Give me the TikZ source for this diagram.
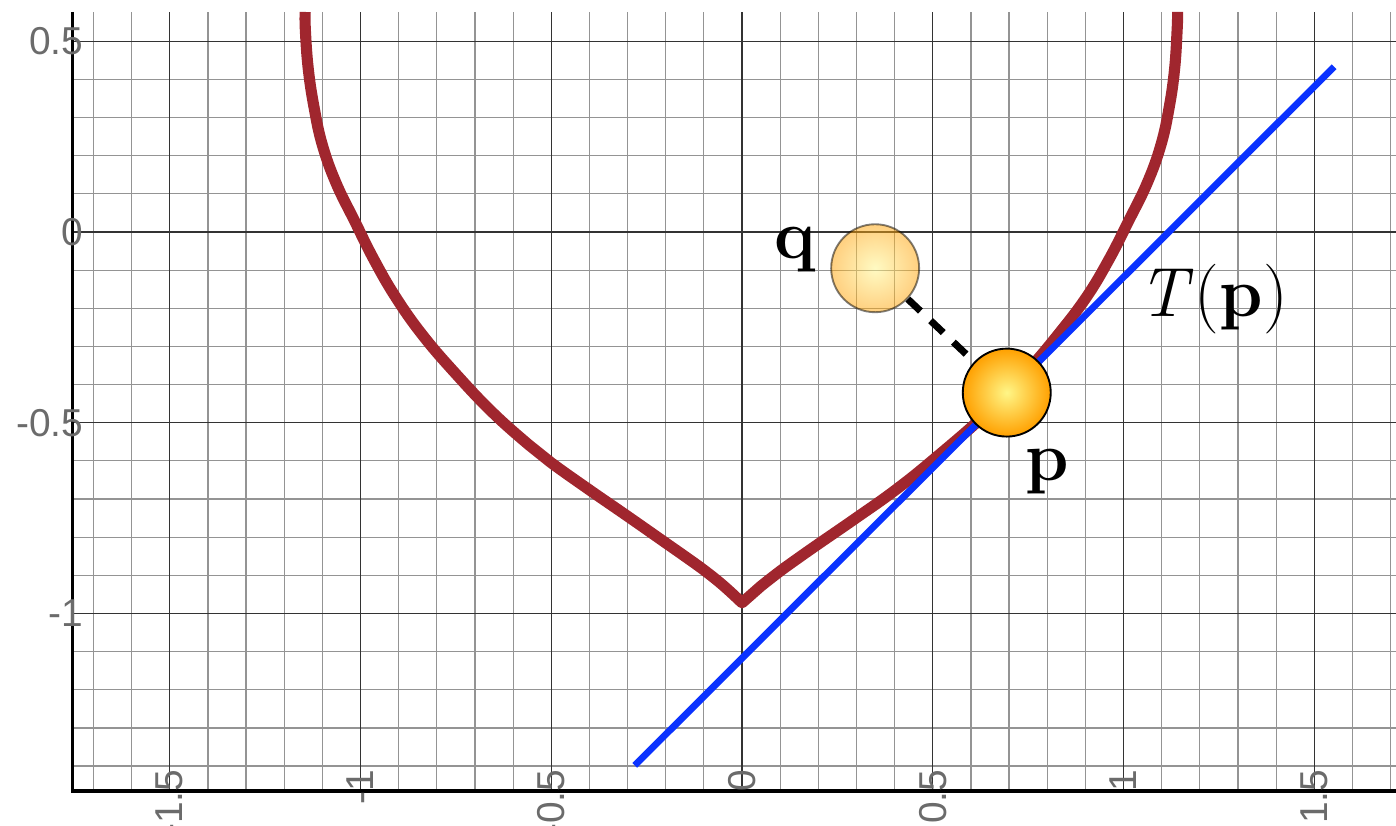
\documentclass[tikz,border=0pt]{standalone}
\usepackage{fontspec}
\newfontfamily\ticksf{Liberation Sans}
\definecolor{curvered}{RGB}{160,38,46}
\definecolor{tanblue}{RGB}{10,50,255}
\definecolor{ballin}{RGB}{255,246,135}
\definecolor{ballout}{RGB}{255,160,0}
\pgfdeclarelayer{back}
\pgfdeclarelayer{mid}
\pgfsetlayers{back,mid,main}
\tikzset{
  minorgrid/.style={draw=black!42, line width=0.9pt},
  majorgrid/.style={draw=black!80, line width=0.8pt},
  axisline/.style={draw=black, line width=2.5pt},
  curvestyle/.style={draw=curvered, line width=8.3pt, line join=round},
  tanline/.style={draw=tanblue, line width=5.1pt},
  dashline/.style={draw=black, line width=5.2pt, dash pattern=on 13pt off 10.4pt},
  ball/.style={circle, minimum size=65.6pt, inner sep=0pt, draw=black, line width=1.4pt, inner color=ballin, outer color=ballout},
  ticklab/.style={text=black!58, font=\ticksf\fontsize{29}{30}\selectfont, inner sep=0pt},
  lab/.style={inner sep=0pt, font=\fontsize{52}{58}\selectfont}
}
\begin{document}
\begin{tikzpicture}[x=10cm,y=10cm]
\useasboundingbox (-1.9450,-1.5570) rectangle (1.7143,0.6081);
\begin{pgfonlayer}{back}
% grid
\foreach \i in {-17,...,17} \draw[minorgrid] (\i/10,-1.4653) -- (\i/10,0.5767);
\foreach \j in {-14,...,5} \draw[minorgrid] (-1.7549,\j/10) -- (1.7143,\j/10);
\foreach \i in {-1.5,-1,-0.5,0,0.5,1,1.5} \draw[majorgrid] (\i,-1.4653) -- (\i,0.5767);
\foreach \j in {-1,-0.5,0,0.5} \draw[majorgrid] (-1.7549,\j) -- (1.7143,\j);
% axes
\coordinate (ytop) at (-1.7549,0.5767);
\coordinate (orig) at (-1.7549,-1.4653);
\coordinate (xend) at (1.7143,-1.4653);
\draw[axisline] (ytop) -- (orig) -- (xend);
% tick labels
\foreach \v/\t in {0.5/0.5,0/0,-0.5/-0.5,-1/-1}
  \node[ticklab, anchor=east] (yl\t) at (-1.7261,\v) {\t};
\foreach \v/\t in {-1.5/-1.5,-1/-1,-0.5/-0.5,0/0,0.5/0.5,1/1,1.5/1.5}
  \node[ticklab, anchor=east, rotate=90] (xl\t) at (\v,-1.4090) {\t};
% curve
\draw[curvestyle] plot[smooth, tension=0.7] coordinates {(-1.145,0.5767) (-1.1445,0.528) (-1.137,0.428) (-1.122,0.328) (-1.100,0.228) (-1.064,0.128) (-1.015,0.028) (-0.965,-0.072) (-0.907,-0.172) (-0.836,-0.272) (-0.750,-0.372) (-0.655,-0.472) (-0.560,-0.557) (-0.500,-0.605) (-0.400,-0.676) (-0.300,-0.745) (-0.200,-0.815) (-0.150,-0.850) (-0.100,-0.886) (-0.050,-0.926) (0,-0.972)}
  -- plot[smooth, tension=0.7] coordinates {(0.050,-0.928) (0.100,-0.889) (0.150,-0.853) (0.200,-0.818) (0.300,-0.749) (0.400,-0.678) (0.500,-0.598) (0.645,-0.472) (0.741,-0.372) (0.826,-0.272) (0.902,-0.172) (0.962,-0.072) (1.013,0.028) (1.062,0.128) (1.098,0.228) (1.120,0.328) (1.134,0.428) (1.1405,0.528) (1.142,0.5767)};
% tangent line
\coordinate (t1) at (-0.281,-1.398);
\coordinate (t2) at (1.552,0.433);
\draw[tanline] (t1) -- (t2);
\end{pgfonlayer}
% points
\node[ball, opacity=0.5] (q) at (0.349,-0.095) {};
\node[ball] (p) at (0.694,-0.421) {};
\begin{pgfonlayer}{mid}
\draw[dashline] (q) -- (p);
\end{pgfonlayer}
% labels
\node[lab, anchor=base west] (ql) at (0.0850,-0.070) {\bfseries q};
\node[lab, anchor=base west] (pl) at (0.7430,-0.6527) {\bfseries p};
\node[lab, anchor=base west] (tl) at (1.038,-0.222) {{\itshape T\/}\kern0.02em(\textbf{p})};
\end{tikzpicture}
\end{document}
